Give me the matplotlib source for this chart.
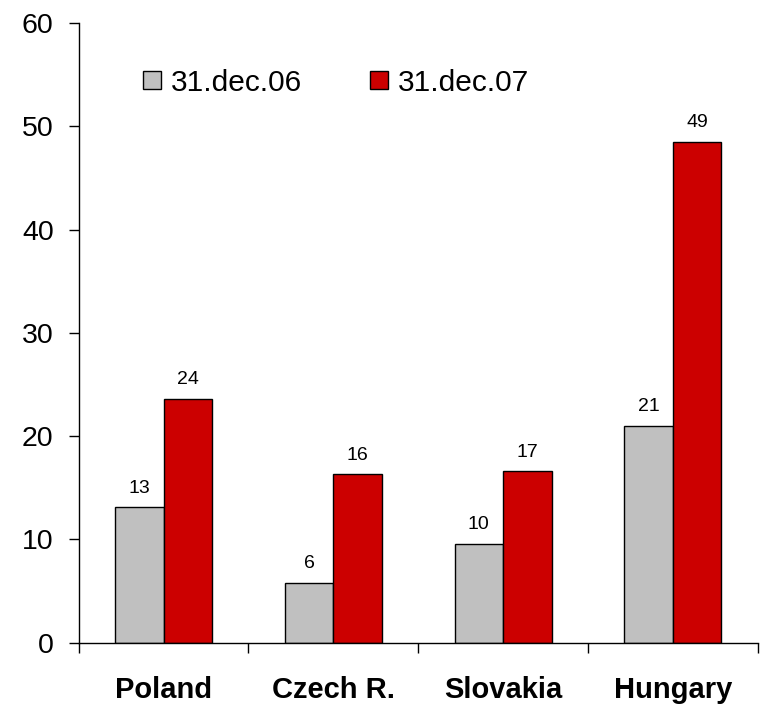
import matplotlib
matplotlib.use("Agg")
import matplotlib.pyplot as plt
import numpy as np
from matplotlib.patches import Patch

categories = ["Poland", "Czech R.", "Slovakia", "Hungary"]
series_names = ["31.dec.06", "31.dec.07"]
vals_06 = [13.1, 5.8, 9.6, 21.0]
vals_07 = [23.6, 16.3, 16.6, 48.5]
labels_06 = ["13", "6", "10", "21"]
labels_07 = ["24", "16", "17", "49"]
colors = ["#C0C0C0", "#CC0000"]

plt.rcParams['font.family'] = ['Liberation Sans', 'DejaVu Sans']

fig = plt.figure(figsize=(7.61, 7.04), dpi=100)
ax = fig.add_axes([0.1034, 0.0871, 0.8923, 0.8802])

x = np.arange(len(categories))
w = 0.286
b1 = ax.bar(x - w/2, vals_06, w, color=colors[0], edgecolor="black", linewidth=1.0, label=series_names[0])
b2 = ax.bar(x + w/2, vals_07, w, color=colors[1], edgecolor="black", linewidth=1.0, label=series_names[1])

for bars, labs in ((b1, labels_06), (b2, labels_07)):
    for rect, lab in zip(bars, labs):
        ax.annotate(lab, (rect.get_x() + rect.get_width()/2, rect.get_height()),
                    xytext=(0, 10.5), textcoords="offset points", ha="center", va="baseline",
                    fontsize=14)

ax.set_xlim(-0.5, len(categories) - 0.5)
ax.set_ylim(0, 60)
ax.set_yticks(np.arange(0, 61, 10))
ax.tick_params(axis="y", labelsize=20.5, length=7, width=1, direction="out", pad=11)
ax.set_xticks(x)
ax.set_xticklabels(categories, fontsize=21, fontweight="bold")
ax.tick_params(axis="x", which="major", length=0, pad=24)
ax.set_xticks(np.arange(-0.5, len(categories), 1.0), minor=True)
ax.tick_params(axis="x", which="minor", length=7, width=1, direction="out")

for s in ("top", "right"):
    ax.spines[s].set_visible(False)
for s in ("left", "bottom"):
    ax.spines[s].set_linewidth(1.0)

handles = [Patch(facecolor=colors[0], edgecolor="black", label=series_names[0]),
           Patch(facecolor=colors[1], edgecolor="black", label=series_names[1])]
ax.legend(handles=handles, loc="center left", bbox_to_anchor=(0.0947, 0.904), ncol=2,
          frameon=False, fontsize=21.5, handlelength=0.6, handleheight=0.6,
          handletextpad=0.32, columnspacing=2.3, borderaxespad=0, borderpad=0)

fig.savefig("out.png", dpi=100)
